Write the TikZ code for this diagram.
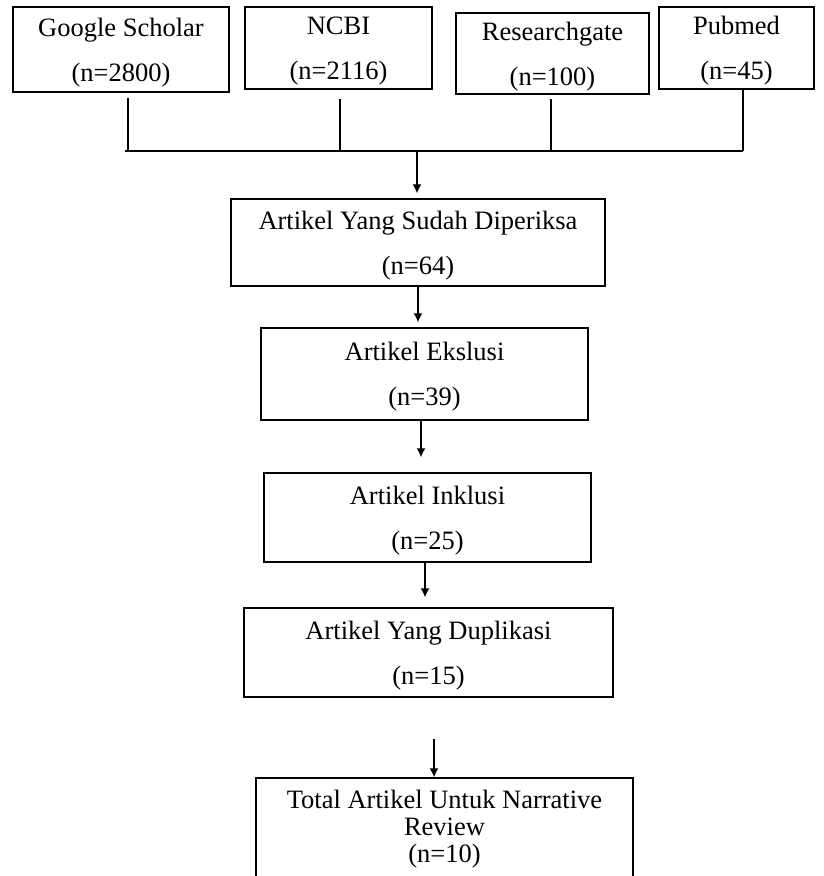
\documentclass[tikz,border=0pt]{standalone}
\usepackage{fontspec}
\setmainfont{Liberation Serif}
\usepackage{tikz}
\usetikzlibrary{arrows.meta}
\newcommand{\boxFont}{\fontsize{26.5}{45}\selectfont}
\newcommand{\boxFontTight}{\fontsize{26.5}{27}\selectfont}
\newcommand{\busY}{151}
\newcommand{\sourceBoxes}{gs/121/49.5/216/85/Google Scholar/2800, ncbi/338.5/48/187/82/NCBI/2116, rg/552.5/53.5/193/81/Researchgate/100, pm/736.5/48/155/82/Pubmed/45}
\newcommand{\busJoints}{gs/128/5, ncbi/340/9, rg/551/4, pm/743/0}
\newcommand{\flowSteps}{checked/excl/0/0/5, excl/incl/-3.5/0/15, incl/dup/-2.5/0/10, dup/total/5.5/41/0}

\tikzset{
	flowbox/.style={draw, line width=1.5pt, inner xsep=0pt, inner ysep=-6pt, align=center, font=\boxFont},
	busline/.style={line width=1.3pt},
	flowarrow/.style={line width=1.3pt, -{Latex[length=9pt,width=9pt]}}
}

\begin{document}
\begin{tikzpicture}[x=1pt, y=-1pt]
	\useasboundingbox (0,0) rectangle (824,876);
	
		% sources on top
		\foreach \id/\cx/\cy/\w/\h/\name/\n in \sourceBoxes
		{
			\node[flowbox, minimum width=\w, minimum height=\h] (\id) at (\cx,\cy) {\strut\name\\\strut(n=\n)};
		}
		\foreach \id/\jx/\gap in \busJoints
		{
			\coordinate (j-\id) at (\jx,\busY);
			\draw[busline, shorten <=\gap pt] (j-\id |- \id.south) -- (j-\id);
		}
		\draw[busline] ([xshift=-3pt]j-gs) -- (j-pm);
		
		% steps
		\node[flowbox, minimum width=374, minimum height=87] (checked) at (418,242.5) {\strut Artikel Yang Sudah Diperiksa\\\strut(n=64)};
		\node[flowbox, minimum width=327, minimum height=92] (excl) at (424.5,374) {\strut Artikel Ekslusi\\\strut(n=39)};
		\node[flowbox, minimum width=327, minimum height=89] (incl) at (427.5,517.5) {\strut Artikel Inklusi\\\strut(n=25)};
		\node[flowbox, minimum width=369, minimum height=89] (dup) at (428.5,652.5) {\strut Artikel Yang Duplikasi\\\strut(n=15)};
		\node[flowbox, font=\boxFontTight, minimum width=377, minimum height=104] (total) at (444.5,830) {\strut Total Artikel Untuk Narrative\\\strut Review\\\strut(n=10)};
		
		\coordinate (feed) at (417,\busY);
		\draw[flowarrow, shorten >=5pt] (feed) -- (feed |- checked.north);
		\foreach \from/\to/\dx/\pre/\post in \flowSteps
		{
			\draw[flowarrow, shorten <=\pre pt, shorten >=\post pt] ([xshift=\dx pt]\from.south) -- ([xshift=\dx pt]\from.south |- \to.north);
		}
	\end{tikzpicture}
\end{document}
